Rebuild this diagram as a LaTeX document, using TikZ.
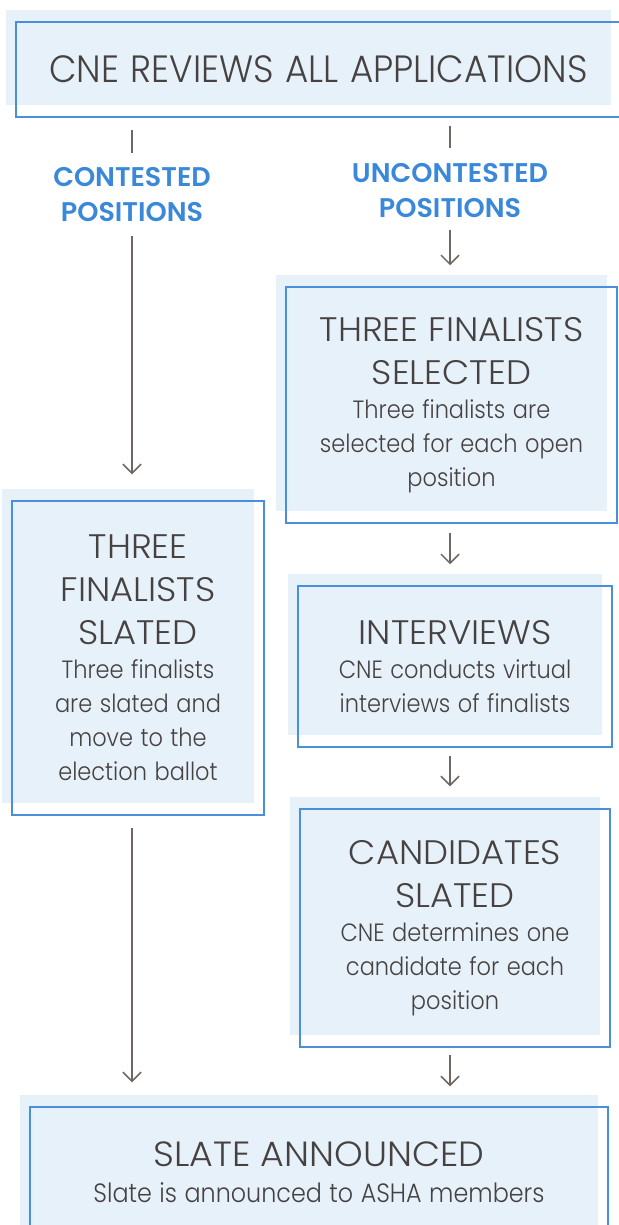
\documentclass[tikz,border=0pt]{standalone}
\usepackage{fontspec}
\setmainfont{Poppins}[UprightFont=* Light, BoldFont=* SemiBold]
\newfontfamily\headfam{Poppins}[UprightFont=* Light, FakeStretch=0.94]
\newfontfamily\ttlfam{Poppins}[UprightFont=* Light, FakeStretch=1.04]
\newfontfamily\txtfam{Poppins}[UprightFont=* Light, FakeStretch=0.9]
\usetikzlibrary{arrows.meta,shadows}
\definecolor{boxfill}{HTML}{E7F1FA}
\definecolor{boxline}{HTML}{4A8FDB}
\definecolor{inktext}{HTML}{464242}
\definecolor{labelblue}{HTML}{3A88D9}
\definecolor{linkgray}{HTML}{6F6762}
\newcommand{\headfont}{\headfam\fontsize{38}{46}\selectfont\spaceskip=0.3em\relax}
\newcommand{\ttlfont}{\ttlfam\fontsize{34}{43}\selectfont\spaceskip=0.3em\relax}
\newcommand{\txtfont}{\txtfam\fontsize{25}{34}\selectfont\spaceskip=0.3em\relax}
\newcommand{\lblfont}{\bfseries\fontsize{27}{35}\selectfont}
\tikzset{
  stepbox/.style={draw=boxline, line width=1.5pt, inner sep=0pt, text=inktext, align=center,
    general shadow={fill=boxfill, draw=none, shadow xshift=-10pt, shadow yshift=12pt}},
  branch/.style={inner sep=0pt, text=labelblue, align=center, font=\lblfont},
  link/.style={draw=linkgray, line width=1.5pt},
  arrowlink/.style={link, -{Straight Barb[length=9pt, width=18pt]}},
}
\begin{document}
\begin{tikzpicture}[x=1pt, y=-1pt]
  \useasboundingbox (0,0) rectangle (618,1225);
  \node[stepbox, text width=605pt, minimum height=95pt] (review) at (318.5,69.5) {\headfont CNE REVIEWS ALL APPLICATIONS};
  \node[branch, text width=250pt] (contested) at (132,195) {CONTESTED\\POSITIONS};
  \node[branch, text width=250pt] (uncontested) at (450,191) {UNCONTESTED\\POSITIONS};
  \node[stepbox, text width=331pt, minimum height=236pt] (selected) at (451.5,405) {\ttlfont THREE FINALISTS\\SELECTED\par\txtfont Three finalists are\\selected for each open\\position\par};
  \node[stepbox, text width=314pt, minimum height=161pt] (interviews) at (455,666.5) {\ttlfont INTERVIEWS\par\txtfont CNE conducts virtual\\interviews of finalists\par};
  \node[stepbox, text width=310pt, minimum height=238pt] (candidates) at (455,928) {\ttlfont CANDIDATES\\SLATED\par\txtfont CNE determines one\\candidate for each\\position\par};
  \node[stepbox, text width=252pt, minimum height=314pt] (slated) at (138,658) {\ttlfont THREE\\FINALISTS\\SLATED\par\txtfont Three finalists\\are slated and\\move to the\\election ballot\par};
  \node[stepbox, text width=578pt, minimum height=130pt] (announced) at (319,1172) {\ttlfont\fontsize{35}{43}\selectfont SLATE ANNOUNCED\par\txtfont\fontsize{26.5}{36}\selectfont Slate is announced to ASHA members\par};

  \draw[link, shorten <=12pt, shorten >=15pt] (review.south -| contested) -- (contested.north);
  \draw[arrowlink, shorten <=14pt, shorten >=26pt] (contested.south) -- (contested.south |- slated.north);
  \draw[arrowlink, shorten <=12pt, shorten >=24pt] (slated.south -| contested) -- (contested |- announced.north);

  \draw[link, shorten <=8pt, shorten >=16pt] (review.south -| uncontested) -- (uncontested.north);
  \draw[arrowlink, shorten <=12pt, shorten >=21pt] (uncontested.south) -- (uncontested.south |- selected.north);
  \draw[arrowlink, shorten <=9pt, shorten >=21pt] (selected.south -| uncontested) -- (uncontested |- interviews.north);
  \draw[arrowlink, shorten <=8pt, shorten >=22pt] (interviews.south -| uncontested) -- (uncontested |- candidates.north);
  \draw[arrowlink, shorten <=7pt, shorten >=20pt] (candidates.south -| uncontested) -- (uncontested |- announced.north);
\end{tikzpicture}
\end{document}
